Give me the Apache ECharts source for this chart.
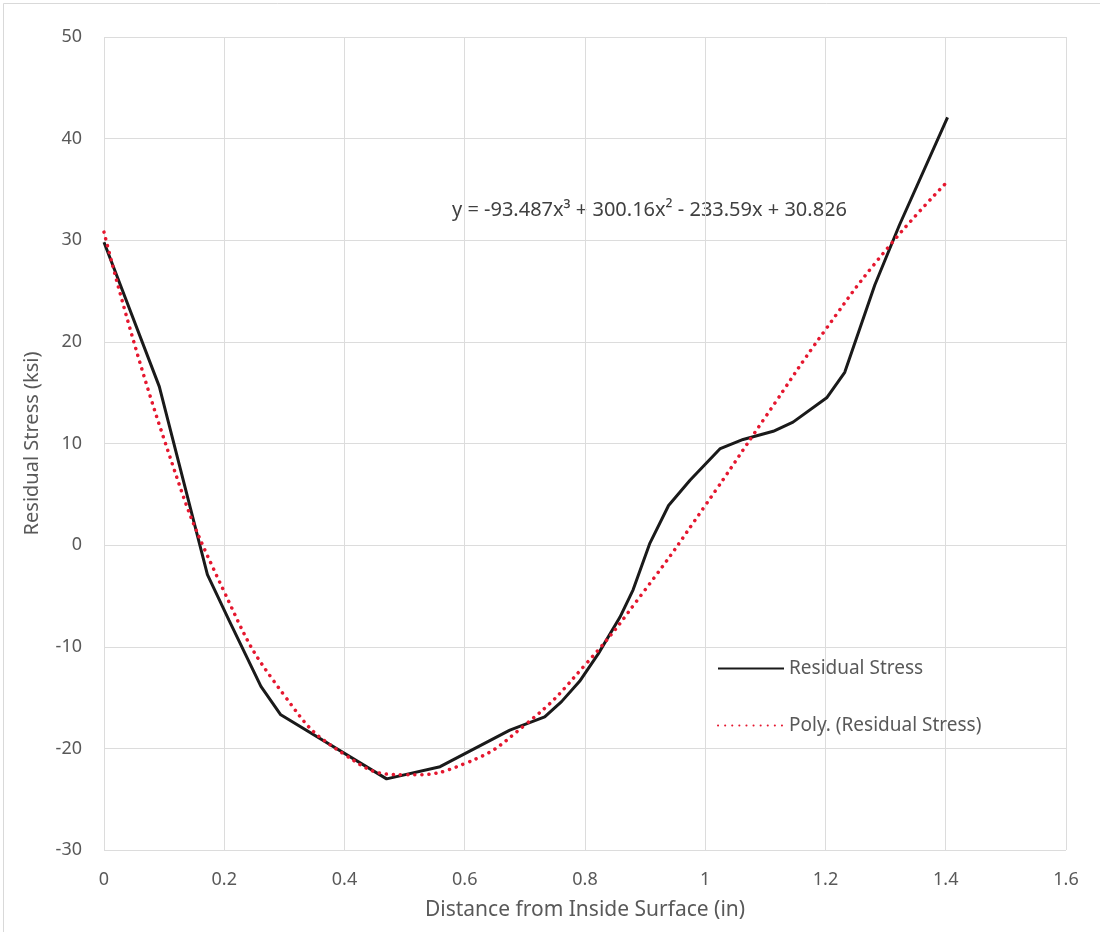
<!DOCTYPE html>
<html>
<head>
<meta charset="utf-8">
<script src="https://cdn.jsdelivr.net/npm/echarts@6/dist/echarts.min.js"></script>
<style>
  html, body { margin: 0; padding: 0; background: #fff; }
  #chart { width: 1100px; height: 932px; }
</style>
</head>
<body>
<div id="chart"></div>
<script>
const distance = [0, 0.092, 0.172, 0.208, 0.261, 0.294, 0.47, 0.559, 0.675, 0.733, 0.761, 0.791,
  0.822, 0.858, 0.88, 0.908, 0.939, 0.975, 1.025, 1.063, 1.113, 1.146, 1.202, 1.232, 1.282, 1.323, 1.403];
const stress = [29.8, 15.6, -2.9, -7.4, -13.9, -16.7, -23.0, -21.8, -18.2, -16.9, -15.4, -13.4,
  -10.7, -7.1, -4.4, 0.2, 3.9, 6.4, 9.5, 10.4, 11.2, 12.1, 14.5, 17.0, 25.6, 31.5, 42.1];

// polynomial trend line
const trendX = [0, 0.1, 0.2, 0.3, 0.4, 0.5, 0.6, 0.7, 0.8, 0.9, 1.0, 1.1, 1.2, 1.3, 1.4];
const trendY = [30.8, 10.4, -4.6, -14.8, -20.6, -22.6, -21.5, -17.7, -11.8, -4.4, 3.9, 12.6, 21.2, 29.0, 35.6];

const equationText = "y = -93.487x³ + 300.16x² - 233.59x + 30.826";

const font = "Noto Sans";
const textColor = "#595959";
const gridColor = "#dcdcdc";

let myChart = echarts.init(document.getElementById("chart"));

let option = {
    animation: false,
    backgroundColor: "#fff",
    textStyle: { fontFamily: font },
    grid: { left: 104, right: 34, top: 37, bottom: 82 },
    xAxis: {
        type: "value",
        min: 0,
        max: 1.6,
        interval: 0.2,
        name: "Distance from Inside Surface (in)",
        nameLocation: "middle",
        nameGap: 50,
        nameTextStyle: { fontSize: 21, color: textColor, fontFamily: font },
        axisLine: { show: false },
        axisTick: { show: false },
        axisLabel: { fontSize: 18, color: textColor, margin: 21 },
        splitLine: { lineStyle: { color: gridColor, width: 1 } },
    },
    yAxis: {
        type: "value",
        min: -30,
        max: 50,
        interval: 10,
        name: "Residual Stress (ksi)",
        nameLocation: "middle",
        nameGap: 62,
        nameTextStyle: { fontSize: 20, color: textColor, fontFamily: font },
        axisLine: { show: false },
        axisTick: { show: false },
        axisLabel: { fontSize: 18, color: textColor, margin: 22 },
        splitLine: { lineStyle: { color: gridColor, width: 1 } },
    },
    legend: {
        orient: "vertical",
        left: 712,
        top: 654,
        itemWidth: 66,
        itemHeight: 12,
        itemGap: 38,
        itemStyle: { color: "transparent", borderWidth: 0 },
        textStyle: { fontSize: 19, color: textColor, fontFamily: font },
        data: ["Residual Stress", "Poly. (Residual Stress)"],
    },
    graphic: [
        {
            type: "rect",
            left: 1, top: 1,
            shape: { width: 1097, height: 929 },
            style: { fill: "none", stroke: "#d9d9d9", lineWidth: 1 },
            silent: true,
        },
        {
            type: "text",
            left: 452,
            top: 200,
            style: { text: equationText, fontSize: 20, fill: "#404040", fontFamily: font },
        },
    ],
    series: [
        {
            name: "Poly. (Residual Stress)",
            type: "line",
            smooth: true,
            symbol: "none",
            data: trendX.map((x, i) => [x, trendY[i]]),
            lineStyle: { color: "#e5172f", width: 3.5, type: [0.1, 7], cap: "round" },
            itemStyle: { color: "#e5172f" },
            z: 3,
        },
        {
            name: "Residual Stress",
            type: "line",
            symbol: "none",
            data: distance.map((x, i) => [x, stress[i]]),
            lineStyle: { color: "#1a1a1a", width: 3 },
            itemStyle: { color: "#1a1a1a" },
            z: 2,
        },
    ],
};

myChart.setOption(option);
window.addEventListener("resize", function () {
    myChart.resize();
});
</script>
</body>
</html>
